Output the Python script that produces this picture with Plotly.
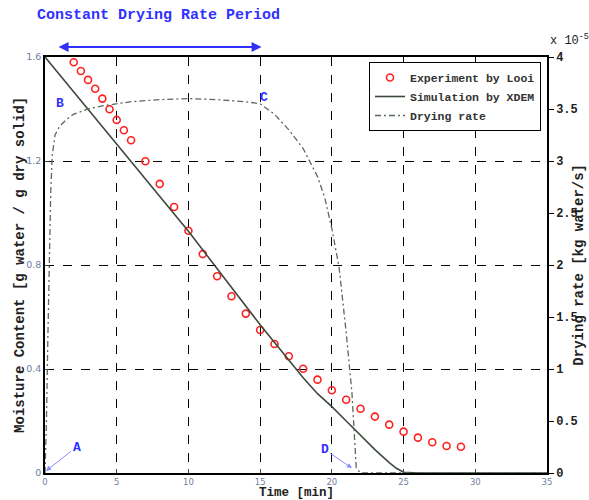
import plotly.graph_objects as go

# Experimental data (Looi)
exp_t = [2, 2.5, 3, 3.5, 4, 4.5, 5, 5.5, 6, 7, 8, 9, 10, 11, 12, 13, 14, 15, 16, 17, 18, 19,
         20, 21, 22, 23, 24, 25, 26, 27, 28, 29]
exp_m = [1.58, 1.546, 1.512, 1.478, 1.44, 1.399, 1.358, 1.318, 1.28, 1.199, 1.112, 1.023,
         0.932, 0.842, 0.757, 0.68, 0.613, 0.55, 0.496, 0.449, 0.401, 0.359, 0.318, 0.282,
         0.247, 0.217, 0.186, 0.159, 0.136, 0.118, 0.104, 0.101]

# XDEM simulation
sim_t = [0, 5, 10, 15, 17, 18, 19, 20, 21, 22, 23, 24, 24.5, 25, 26, 35]
sim_m = [1.6, 1.266, 0.93, 0.57, 0.432, 0.366, 0.305, 0.255, 0.2, 0.145, 0.09, 0.04, 0.018,
         0.003, 0, 0]

# Drying rate (x 10^-5 kg water/s)
rate_t = [0, 0.1, 0.2, 0.3, 0.4, 0.5, 0.7, 1, 1.5, 2, 3, 4, 6, 8, 10, 12, 14, 15, 16, 17, 18,
          19, 19.5, 20, 20.5, 21, 21.4, 21.7, 22, 35]
rate_v = [0, 0.5, 1.3, 2.1, 2.7, 3.05, 3.25, 3.33, 3.4, 3.45, 3.5, 3.53, 3.57, 3.59, 3.6, 3.59,
          3.57, 3.55, 3.45, 3.3, 3.12, 2.85, 2.65, 2.35, 1.98, 1.35, 0.77, 0.05, 0, 0]

x_ticks = [0, 5, 10, 15, 20, 25, 30, 35]
y_ticks = [0, 0.4, 0.8, 1.2, 1.6]
y_tick_text = ["0", "0.4", "0.8", "1.2", "1.6"]
y2_ticks = [0, 0.5, 1, 1.5, 2, 2.5, 3, 3.5, 4]
y2_tick_text = ["0", "0.5", "1", "1.5", "2", "2.5", "3", "3.5", "4"]

MONO = "Liberation Mono"
BLUE = "#3030ff"
TICKC = "#7080a0"

fig = go.Figure()
fig.add_trace(go.Scatter(x=exp_t, y=exp_m, mode="markers", name="Experiment by Looi",
                         marker=dict(symbol="circle-open", size=7, color="#ff2020",
                                     line=dict(width=1.6, color="#ff2020"))))
fig.add_trace(go.Scatter(x=sim_t, y=sim_m, mode="lines", name="Simulation by XDEM",
                         line=dict(color="#3c4a3c", width=1.6)))
fig.add_trace(go.Scatter(x=rate_t, y=rate_v, mode="lines", name="Drying rate", yaxis="y2",
                         line=dict(color="#5a6a5a", width=1.3, dash="6px,3px,2px,3px")))

fig.update_layout(
    width=589, height=500,
    margin=dict(l=45, r=42, t=57, b=27),
    plot_bgcolor="white", paper_bgcolor="white",
    showlegend=True,
    legend=dict(x=0.988, xanchor="right", y=0.988, yanchor="top",
                bordercolor="black", borderwidth=1, bgcolor="white",
                font=dict(family=MONO, size=11.5, color="#333333", weight="bold"),
                tracegroupgap=0, itemwidth=30),
    xaxis=dict(range=[0, 35], tickvals=x_ticks, showgrid=True, gridcolor="black",
               griddash="dash", gridwidth=1.3, zeroline=False, showline=True,
               linecolor="black", linewidth=1.5, mirror=True, ticks="inside", ticklen=4,
               tickfont=dict(family="DejaVu Sans", size=8.5, color=TICKC)),
    yaxis=dict(range=[0, 1.6], tickvals=y_ticks, ticktext=y_tick_text, showgrid=True,
               gridcolor="black", griddash="dash", gridwidth=1.3, zeroline=False,
               showline=True, linecolor="black", linewidth=1.5, mirror=True,
               ticks="inside", ticklen=4,
               tickfont=dict(family="DejaVu Sans", size=9.5, color=TICKC)),
    yaxis2=dict(range=[0, 4], tickvals=y2_ticks, ticktext=y2_tick_text, overlaying="y",
                side="right", showgrid=False, zeroline=False, showline=True,
                linecolor="black", linewidth=1.5, ticks="outside", ticklen=5,
                tickcolor="black",
                tickfont=dict(family=MONO, size=12, color="#222222", weight="bold")),
)

annos = [
    dict(text="<b>Time [min]</b>", xref="paper", yref="paper", x=0.5, y=-0.049,
         xanchor="center", yanchor="middle", showarrow=False,
         font=dict(family=MONO, size=12.5, color="#222222")),
    dict(text="<b>Moisture Content [g water / g dry solid]</b>", xref="paper", yref="paper",
         x=-0.05, y=0.5, xanchor="center", yanchor="middle", textangle=-90, showarrow=False,
         font=dict(family=MONO, size=14, color="#222222")),
    dict(text="<b>Drying rate [kg water/s]</b>", xref="paper", yref="paper",
         x=1.063, y=0.5, xanchor="center", yanchor="middle", textangle=-90, showarrow=False,
         font=dict(family=MONO, size=14, color="#222222")),
    dict(text="x 10<sup>-5</sup>", xref="paper", yref="paper", x=1.002, y=1.018,
         xanchor="left", yanchor="bottom", showarrow=False,
         font=dict(family=MONO, size=12, color="#222222")),
    dict(text="<b>Constant Drying Rate Period</b>", xref="paper", yref="paper",
         x=0.227, y=1.099, xanchor="center", yanchor="middle", showarrow=False,
         font=dict(family=MONO, size=15, color=BLUE)),
    # double headed arrow
    dict(text="", xref="x", yref="paper", x=15.1, y=1.024, axref="x", ayref="pixel",
         ax=0.84, ay=0, showarrow=True, arrowhead=2, startarrowhead=2,
         arrowside="end+start", arrowwidth=2, arrowcolor=BLUE, arrowsize=1),
    dict(text="<b>B</b>", xref="x", yref="y", x=1.05, y=1.423, showarrow=False,
         font=dict(family=MONO, size=13, color=BLUE)),
    dict(text="<b>C</b>", xref="x", yref="y", x=15.3, y=1.446, showarrow=False,
         font=dict(family=MONO, size=13, color=BLUE)),
    dict(text="<b>A</b>", xref="x", yref="y", x=0.07, y=0.008, axref="x", ayref="y",
         ax=2.2, ay=0.1, showarrow=True, arrowhead=2, arrowwidth=1, arrowcolor="#8a8aff",
         font=dict(family=MONO, size=13, color=BLUE)),
    dict(text="<b>D</b>", xref="x", yref="y", x=21.4, y=0.019, axref="x", ayref="y",
         ax=19.5, ay=0.09, showarrow=True, arrowhead=2, arrowwidth=1, arrowcolor="#8a8aff",
         font=dict(family=MONO, size=13, color=BLUE)),
]
fig.update_layout(annotations=annos)

fig.write_html("out.html")
